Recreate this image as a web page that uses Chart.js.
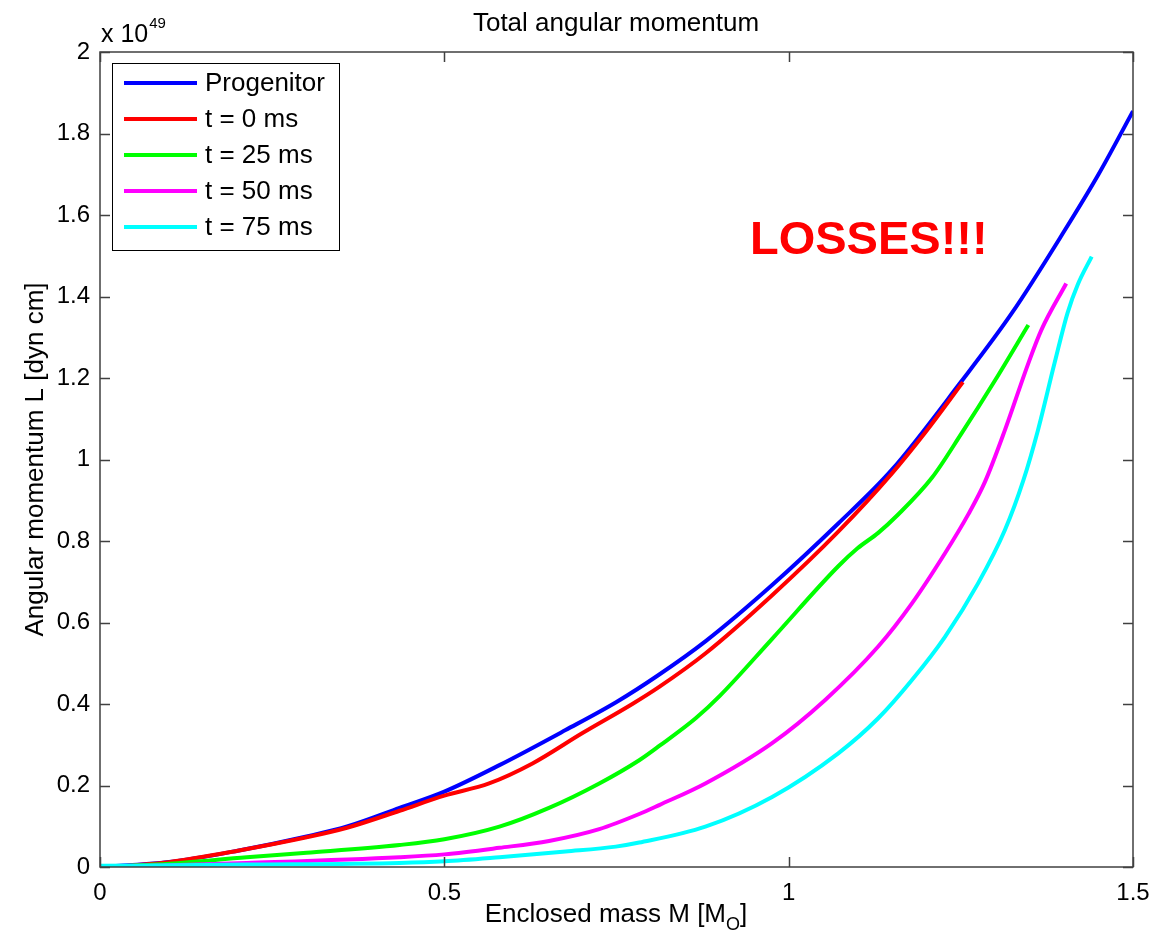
<!DOCTYPE html>
<html>
<head>
<meta charset="utf-8">
<title>Total angular momentum</title>
<script src="https://cdn.jsdelivr.net/npm/chart.js@4/dist/chart.umd.min.js"></script>
<style>
  html, body { margin: 0; padding: 0; background: #fff; }
  canvas { display: block; }
</style>
</head>
<body>
<canvas id="momentumChart" width="1168" height="938"></canvas>
<script>
// enclosed mass M [M_sun] and angular momentum L [1e49 dyn cm]
const progenitorM = [0, 0.1, 0.2, 0.3, 0.36, 0.435, 0.5, 0.58, 0.676, 0.75, 0.81, 0.88, 0.976, 1.072, 1.15, 1.25, 1.324, 1.4, 1.45, 1.5];
const progenitorL = [0, 0.012, 0.04, 0.075, 0.1, 0.145, 0.185, 0.25, 0.336, 0.405, 0.47, 0.555, 0.692, 0.843, 0.975, 1.19, 1.359, 1.56, 1.7, 1.855];

const t0M = [0.04, 0.1, 0.2, 0.3, 0.36, 0.435, 0.5, 0.565, 0.628, 0.7, 0.773, 0.812, 0.879, 0.976, 1.072, 1.15, 1.2, 1.253];
const t0L = [0.003, 0.012, 0.04, 0.073, 0.097, 0.138, 0.175, 0.205, 0.254, 0.328, 0.4, 0.442, 0.524, 0.667, 0.823, 0.966, 1.07, 1.19];

const t25M = [0.03, 0.1, 0.213, 0.3, 0.435, 0.5, 0.58, 0.652, 0.725, 0.783, 0.812, 0.865, 0.9, 0.976, 1.072, 1.1, 1.13, 1.159, 1.208, 1.251, 1.3, 1.348];
const t25L = [0.002, 0.008, 0.024, 0.035, 0.054, 0.068, 0.099, 0.145, 0.205, 0.262, 0.297, 0.365, 0.42, 0.56, 0.738, 0.782, 0.82, 0.865, 0.955, 1.064, 1.195, 1.33];

const t50M = [0.03, 0.213, 0.435, 0.5, 0.58, 0.652, 0.725, 0.783, 0.812, 0.879, 0.976, 1.053, 1.13, 1.179, 1.227, 1.261, 1.285, 1.314, 1.348, 1.367, 1.403];
const t50L = [0.001, 0.01, 0.024, 0.031, 0.047, 0.064, 0.093, 0.13, 0.152, 0.205, 0.304, 0.41, 0.541, 0.647, 0.77, 0.866, 0.945, 1.072, 1.236, 1.318, 1.432];

const t75M = [0, 0.213, 0.435, 0.5, 0.58, 0.676, 0.749, 0.783, 0.879, 0.976, 1.072, 1.13, 1.179, 1.227, 1.275, 1.314, 1.341, 1.362, 1.386, 1.405, 1.42, 1.44];
const t75L = [0.003, 0.006, 0.01, 0.014, 0.024, 0.038, 0.05, 0.06, 0.099, 0.172, 0.279, 0.365, 0.459, 0.565, 0.696, 0.827, 0.95, 1.072, 1.236, 1.36, 1.43, 1.498];

const seriesLabels = ["Progenitor", "t = 0 ms", "t = 25 ms", "t = 50 ms", "t = 75 ms"];
const seriesColors = ["#0000ff", "#ff0000", "#00ff00", "#ff00ff", "#00ffff"];

const FONT = '"Liberation Sans", Arial, Helvetica, sans-serif';

function toPoints(xs, ys) {
  return xs.map((x, i) => ({ x: x, y: ys[i] }));
}

const seriesData = [
  toPoints(progenitorM, progenitorL),
  toPoints(t0M, t0L),
  toPoints(t25M, t25L),
  toPoints(t50M, t50L),
  toPoints(t75M, t75L)
];

// box, inside ticks, texts and legend in the matlab style
const decorPlugin = {
  id: "decor",
  afterDatasetsDraw(chart) {
    const ctx = chart.ctx;
    const area = chart.chartArea;
    const xs = chart.scales.x;
    const ys = chart.scales.y;

    ctx.save();
    ctx.strokeStyle = "#404040";
    ctx.lineWidth = 1.5;
    ctx.strokeRect(area.left, area.top, area.right - area.left, area.bottom - area.top);

    ctx.beginPath();
    xs.ticks.forEach(t => {
      const px = Math.round(xs.getPixelForValue(t.value)) + 0.5;
      ctx.moveTo(px, area.bottom);
      ctx.lineTo(px, area.bottom - 10);
      ctx.moveTo(px, area.top);
      ctx.lineTo(px, area.top + 10);
    });
    ys.ticks.forEach(t => {
      const py = Math.round(ys.getPixelForValue(t.value)) + 0.5;
      ctx.moveTo(area.left, py);
      ctx.lineTo(area.left + 10, py);
      ctx.moveTo(area.right, py);
      ctx.lineTo(area.right - 10, py);
    });
    ctx.stroke();

    // legend
    const lx = 112, ly = 63, lw = 227, lh = 187;
    ctx.fillStyle = "#fff";
    ctx.fillRect(lx, ly, lw, lh);
    ctx.strokeStyle = "#000";
    ctx.lineWidth = 1;
    ctx.strokeRect(lx + 0.5, ly + 0.5, lw, lh);
    ctx.font = "26px " + FONT;
    ctx.textBaseline = "middle";
    ctx.textAlign = "left";
    chart.data.datasets.forEach((ds, i) => {
      const ry = 83 + i * 36;
      ctx.strokeStyle = ds.borderColor;
      ctx.lineWidth = 4;
      ctx.beginPath();
      ctx.moveTo(124, ry);
      ctx.lineTo(197, ry);
      ctx.stroke();
      ctx.fillStyle = "#000";
      ctx.fillText(ds.label, 205, ry + 1);
    });

    // annotation
    ctx.fillStyle = "#ff0000";
    ctx.font = "bold 47px " + FONT;
    ctx.textBaseline = "alphabetic";
    ctx.fillText("LOSSES!!!", 750, 254);

    ctx.fillStyle = "#000";
    // title
    ctx.font = "26px " + FONT;
    ctx.textAlign = "center";
    ctx.fillText("Total angular momentum", 616, 31);

    // exponent
    ctx.textAlign = "left";
    ctx.font = "25px " + FONT;
    ctx.fillText("x 10", 101, 42);
    const w10 = ctx.measureText("x 10").width;
    ctx.font = "15px " + FONT;
    ctx.fillText("49", 101 + w10 + 1, 28);

    // x axis title with subscript
    const main = "Enclosed mass M [M";
    ctx.font = "26px " + FONT;
    const wMain = ctx.measureText(main).width;
    ctx.font = "18px " + FONT;
    const wSub = ctx.measureText("O").width;
    ctx.font = "26px " + FONT;
    const wEnd = ctx.measureText("]").width;
    let sx = 616 - (wMain + wSub + wEnd) / 2;
    ctx.fillText(main, sx, 922);
    sx += wMain;
    ctx.font = "18px " + FONT;
    ctx.fillText("O", sx, 930);
    sx += wSub;
    ctx.font = "26px " + FONT;
    ctx.fillText("]", sx, 922);

    // y axis title
    ctx.translate(43, (area.top + area.bottom) / 2);
    ctx.rotate(-Math.PI / 2);
    ctx.textAlign = "center";
    ctx.fillText("Angular momentum L [dyn cm]", 0, 0);
    ctx.restore();
  }
};

const chart = new Chart(document.getElementById("momentumChart"), {
  type: "scatter",
  data: {
    datasets: seriesData.map((pts, i) => ({
      label: seriesLabels[i],
      data: pts,
      showLine: true,
      borderColor: seriesColors[i],
      backgroundColor: seriesColors[i],
      borderWidth: 4,
      pointRadius: 0,
      cubicInterpolationMode: "monotone",
      order: seriesData.length - i
    }))
  },
  options: {
    responsive: false,
    animation: false,
    devicePixelRatio: 1,
    layout: { padding: { top: 52, right: 35, left: 0, bottom: 0 } },
    plugins: {
      legend: { display: false },
      title: { display: false },
      tooltip: { enabled: false }
    },
    scales: {
      x: {
        type: "linear",
        min: 0,
        max: 1.5,
        grid: { display: false, drawTicks: false },
        border: { display: false },
        ticks: {
          stepSize: 0.5,
          padding: 12,
          color: "#000",
          font: { family: FONT, size: 24 },
          maxRotation: 0,
          callback: v => String(+v.toFixed(1))
        },
        afterFit: s => { s.height = 71; }
      },
      y: {
        type: "linear",
        min: 0,
        max: 2,
        grid: { display: false, drawTicks: false },
        border: { display: false },
        ticks: {
          stepSize: 0.2,
          padding: 10,
          color: "#000",
          font: { family: FONT, size: 24 },
          callback: v => String(+v.toFixed(1))
        },
        afterFit: s => { s.width = 100; }
      }
    }
  },
  plugins: [decorPlugin]
});
</script>
</body>
</html>
